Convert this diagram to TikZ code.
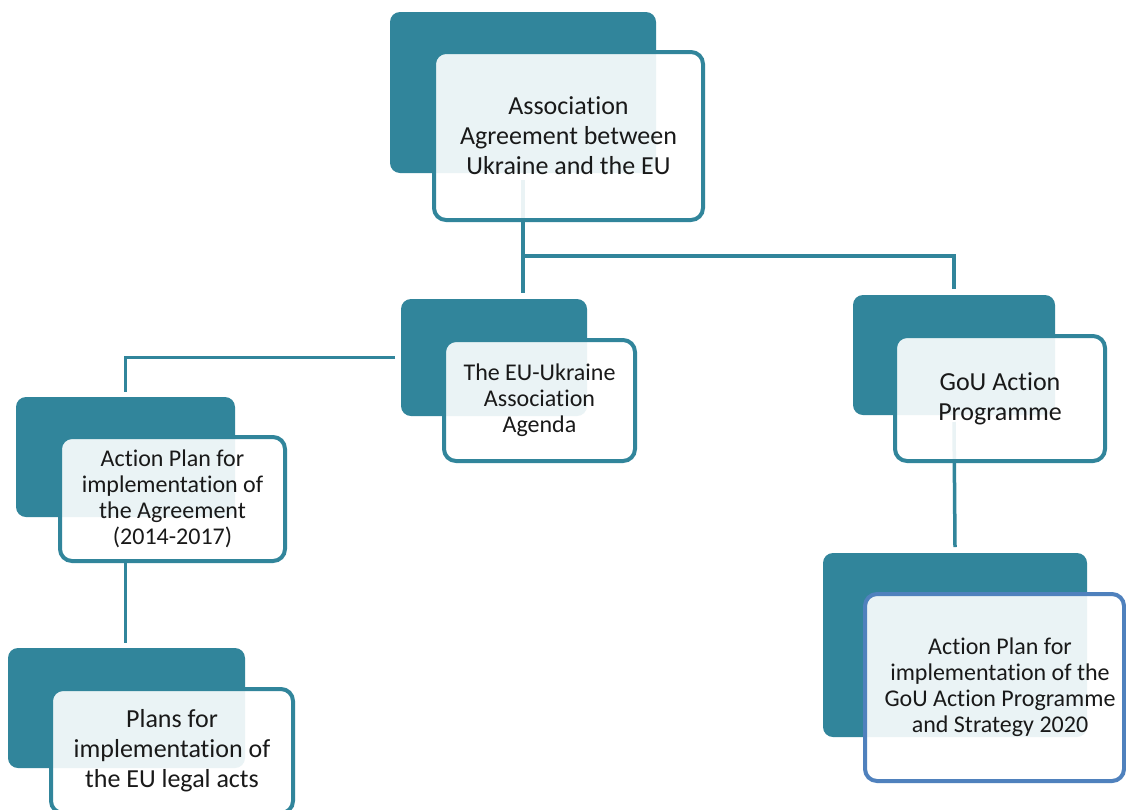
\documentclass[tikz,border=0pt]{standalone}
\usepackage{fontspec}
\setmainfont{Carlito}[Ligatures={NoCommon}]
\definecolor{teal1}{RGB}{49,133,155}
\definecolor{blue1}{RGB}{79,129,189}
\definecolor{txt}{RGB}{25,25,25}
\tikzset{
  backbox/.style={draw=none, fill=teal1, rounded corners=10pt, inner sep=0pt, outer sep=0pt},
  frontbox/.style={draw=teal1, line width=4pt, fill=white, fill opacity=0.9, text opacity=1,
     rounded corners=12pt, inner sep=0pt, outer sep=0pt, text=txt, align=center},
  big/.style={font=\fontsize{26}{30}\selectfont},
  small/.style={font=\fontsize{24}{26}\selectfont},
  conn/.style={draw=teal1, line width=3.5pt},
}
\begin{document}
\begin{tikzpicture}[x=1pt,y=-1pt]
\clip (0,0) rectangle (1126,809);
\fill[white] (0,0) rectangle (1126,809);
% back boxes
\node[backbox, minimum width=266pt, minimum height=161pt] (b1back) at (523,92.5) {};
\node[backbox, minimum width=186pt, minimum height=117pt] (b2back) at (494,357.5) {};
\node[backbox, minimum width=202pt, minimum height=120pt] (b3back) at (954,355) {};
\node[backbox, minimum width=219pt, minimum height=120pt] (b4back) at (125.5,457) {};
\node[backbox, minimum width=237pt, minimum height=120pt] (b5back) at (126.5,708) {};
\node[backbox, minimum width=264pt, minimum height=184pt] (b6back) at (955,645) {};
% connectors
\draw[conn] ([yshift=-7pt]b1back.south) -- ([yshift=6pt]b1back.south |- b2back.north);
\draw[conn] (b1back.south |- 0,256) -- (b3back.north |- 0,256) -- ([yshift=6pt]b3back.north);
\draw[conn] ([xshift=-6pt]b2back.west) -| ([yshift=5pt]b4back.north);
\draw[conn] ([yshift=-7pt]b3back.south) -- ([yshift=6pt]b6back.north);
% front boxes
\node[frontbox, big, minimum width=269pt, minimum height=168pt] (b1front) at (568.5,136)
  {Association\\Agreement between\\Ukraine and the EU};
\node[frontbox, small, minimum width=191pt, minimum height=121pt] (b2front) at (539.5,400.5)
  {The EU-Ukraine\\Association\\Agenda};
\node[frontbox, big, minimum width=210pt, minimum height=125pt] (b3front) at (1000,398.5)
  {GoU Action\\Programme};
\node[frontbox, small, minimum width=225pt, minimum height=124pt] (b4front) at (172.5,499)
  {Action Plan for\\implementation of\\the Agreement\\(2014-2017)};
\node[frontbox, big, minimum width=242pt, minimum height=124pt] (b5front) at (172,751)
  {Plans for\\implementation of\\the EU legal acts};
\node[frontbox, draw=blue1, minimum width=259pt, minimum height=187pt] (b6front) at (994.5,687.5) {};
\node[small, text=txt, align=center, inner sep=0pt] (b6text) at (1000,687)
  {Action Plan for\\implementation of the\\GoU Action Programme\\and Strategy 2020};
\draw[conn] (b4front.south -| b4back.north) -- ([yshift=5pt]b5back.north -| b4back.north);
\end{tikzpicture}
\end{document}
